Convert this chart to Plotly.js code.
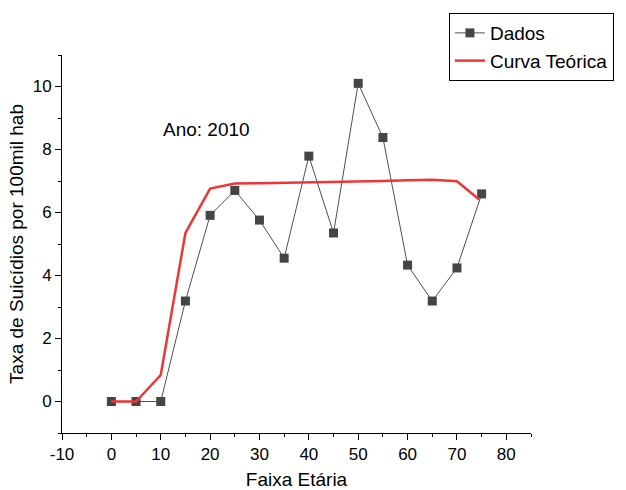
<!DOCTYPE html>
<html>
<head>
<meta charset="utf-8">
<script src="https://cdn.plot.ly/plotly-3.0.1.min.js"></script>
<style>html,body{margin:0;padding:0;background:#fff}#chart{width:626px;height:490px}</style>
</head>
<body>
<div id="chart"></div>
<script>
const ages = [0, 5, 10, 15, 20, 25, 30, 35, 40, 45, 50, 55, 60, 65, 70, 75];
const dados = [0, 0, 0, 3.19, 5.91, 6.70, 5.76, 4.55, 7.79, 5.35, 10.10, 8.38, 4.33, 3.19, 4.24, 6.59];
const curvaX = [0, 5, 10, 15, 20, 25, 30, 35, 40, 45, 50, 55, 60, 65, 70, 74.5];
const curva = [0, 0, 0.84, 5.35, 6.76, 6.92, 6.93, 6.94, 6.95, 6.97, 6.98, 7.00, 7.02, 7.04, 6.99, 6.41];
const xTicks = [-10, 0, 10, 20, 30, 40, 50, 60, 70, 80];
const xTickText = ["-10", "0", "10", "20", "30", "40", "50", "60", "70", "80"];
const yTicks = [0, 2, 4, 6, 8, 10];
const yTickText = ["0", "2", "4", "6", "8", "10"];

const font = "Liberation Sans, Arial, sans-serif";
const traces = [
  {x: ages, y: dados, name: "Dados", type: "scatter", mode: "lines+markers",
   line: {color: "#505050", width: 1},
   marker: {symbol: "square", size: 9, color: "#454545"}},
  {x: curvaX, y: curva, name: "Curva Teórica", type: "scatter", mode: "lines",
   line: {color: "#f03535", width: 2.5}}
];
const layout = {
  width: 626, height: 490,
  margin: {l: 62, r: 95, t: 55, b: 57},
  paper_bgcolor: "#fff", plot_bgcolor: "#fff",
  font: {family: font, size: 17, color: "#000"},
  showlegend: true,
  legend: {x: 0.825, y: 1.111, xanchor: "left", yanchor: "top",
    bordercolor: "#000", borderwidth: 1, bgcolor: "#fff",
    font: {family: font, size: 19}, tracegroupgap: 0},
  xaxis: {range: [-10, 85], tickvals: xTicks, ticktext: xTickText, ticks: "outside", ticklen: 6, tickwidth: 1,
    tickcolor: "#000", showline: true, linecolor: "#000", linewidth: 1,
    tickfont: {family: font, size: 17, color: "#000"},
    showgrid: false, zeroline: false,
    minor: {dtick: 5, tick0: 0, ticks: "outside", ticklen: 3, tickcolor: "#000", showgrid: false},
    title: {text: "Faixa Etária", font: {family: font, size: 19}, standoff: 12}},
  yaxis: {range: [-1, 11], tickvals: yTicks, ticktext: yTickText, ticks: "outside", ticklen: 6, tickwidth: 1,
    tickcolor: "#000", showline: true, linecolor: "#000", linewidth: 1,
    tickfont: {family: font, size: 17, color: "#000"},
    showgrid: false, zeroline: false,
    minor: {dtick: 1, tick0: 0, ticks: "outside", ticklen: 3, tickcolor: "#000", showgrid: false},
    title: {text: "Taxa de Suicídios por 100mil hab", font: {family: font, size: 19}, standoff: 4}},
  annotations: [{x: 10, y: 8.64, xref: "x", yref: "y", text: "Ano: 2010",
    showarrow: false, xanchor: "left", yanchor: "middle", font: {family: font, size: 19}}]
};
Plotly.newPlot("chart", traces, layout, {displayModeBar: false, staticPlot: true});
</script>
</body>
</html>
